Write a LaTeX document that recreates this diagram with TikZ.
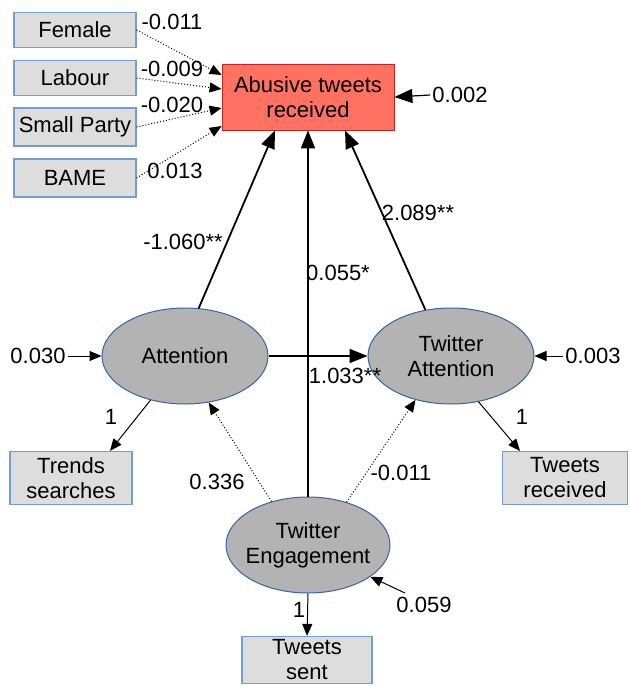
\documentclass[tikz,border=0pt]{standalone}
\usepackage{fontspec}
\setmainfont{Liberation Sans}
\usetikzlibrary{arrows.meta,shapes.geometric}
\definecolor{boxgray}{HTML}{DDDDDD}
\definecolor{boxline}{HTML}{729FCF}
\definecolor{latgray}{HTML}{B3B3B3}
\definecolor{latline}{HTML}{3465A4}
\definecolor{abusered}{HTML}{FF7262}
\definecolor{abuseline}{HTML}{C9211E}
\tikzset{
  every node/.style={font=\fontsize{11}{12.5}\selectfont},
  obs/.style={draw=boxline, fill=boxgray, line width=0.6pt, minimum width=61pt, minimum height=17.5pt, inner sep=1pt, align=center},
  latent/.style={ellipse, draw=latline, fill=latgray, line width=0.5pt, minimum width=83pt, minimum height=48pt, inner xsep=-6pt, inner ysep=0pt, align=center},
  coef/.style={inner sep=1pt},
  effect/.style={line width=0.9pt, -{Triangle[length=9pt,width=7pt]}},
  loading/.style={line width=0.5pt, -{Triangle[length=6pt,width=5pt]}},
  cov/.style={line width=0.5pt, densely dotted, -{Triangle[length=6pt,width=5pt]}},
}
\begin{document}
\begin{tikzpicture}[x=0.5pt, y=-0.5pt]
  \useasboundingbox (0,0) rectangle (630,686);
  % observed covariates
  \node[obs] (fem) at (75,30) {Female};
  \node[obs] (lab) at (75,78) {Labour};
  \node[obs, minimum height=19pt] (small) at (75,127) {Small Party};
  \node[obs, minimum height=19pt] (bame) at (75,178) {BAME};
  \node[obs, draw=abuseline, fill=abusered, line width=0.4pt, minimum width=86pt, minimum height=33pt] (abuse) at (308,97) {Abusive tweets\\received};
  % latent variables
  \node[latent] (att) at (185,356) {Attention};
  \node[latent] (tatt) at (451,356) {Twitter\\Attention};
  \node[latent, minimum width=82pt] (eng) at (308,545) {Twitter\\Engagement};
  % indicators
  \node[obs, minimum height=26.5pt] (trends) at (71,478) {Trends\\searches};
  \node[obs, minimum width=62.5pt, minimum height=26.5pt] (trec) at (565,478) {Tweets\\received};
  \node[obs, minimum width=65pt, minimum height=23.5pt] (tsent) at (307,660) {Tweets\\sent};
  % residuals
  \node[coef] (e2) at (460,95) {0.002};
  \node[coef] (e1) at (38,356) {0.030};
  \node[coef] (e3) at (593,356) {0.003};
  \node[coef] (e4) at (424,605) {0.059};
  \coordinate (e4end) at (405,593);
  \draw[effect, line width=0.6pt] (e2.west) -- (abuse.east);
  \draw[loading] (e1.east) -- (att.west);
  \draw[loading] (e3.west) -- (tatt.east);
  \draw[loading] (e4end) -- (eng.333);
  % covariate paths
  \draw[cov] (fem.east) -- ([yshift=11pt]abuse.west);
  \draw[cov] (lab.east) -- ([yshift=4pt]abuse.west);
  \draw[cov] (small.east) -- ([yshift=-5.5pt]abuse.west);
  \draw[cov] (bame.east) -- ([yshift=-14.5pt]abuse.west);
  \node[coef] (cfem) at (172,22) {-0.011};
  \node[coef] (clab) at (172,69) {-0.009};
  \node[coef] (csmall) at (172,105) {-0.020};
  \node[coef] (cbame) at (175,171) {0.013};
  % structural paths
  \draw[effect] (att.74) -- ([xshift=-16.5pt]abuse.south);
  \draw[effect] (eng.north) -- (abuse.south);
  \draw[effect] (tatt.119) -- ([xshift=18.5pt]abuse.south);
  \draw[effect] (att.east) -- (tatt.west);
  \node[coef] (b1) at (183,242) {-1.060**};
  \node[coef] (b2) at (338,273) {0.055*};
  \node[coef] (b3) at (418,213) {2.089**};
  \node[coef] (b4) at (345,376) {1.033**};
  \draw[cov] (eng.130) -- (att.297);
  \draw[cov] (eng.48) -- (tatt.231);
  \node[coef] (c1) at (217,482) {0.336};
  \node[coef] (c2) at (401,473) {-0.011};
  % loadings
  \draw[loading] (att.232) -- ([xshift=19.5pt]trends.north);
  \draw[loading] (tatt.301) -- ([xshift=-22.5pt]trec.north);
  \draw[loading] (eng.south) -- (tsent.north);
  \node[coef] (l1) at (111,417) {1};
  \node[coef] (l2) at (522,417) {1};
  \node[coef] (l3) at (299,610) {1};
\end{tikzpicture}
\end{document}
